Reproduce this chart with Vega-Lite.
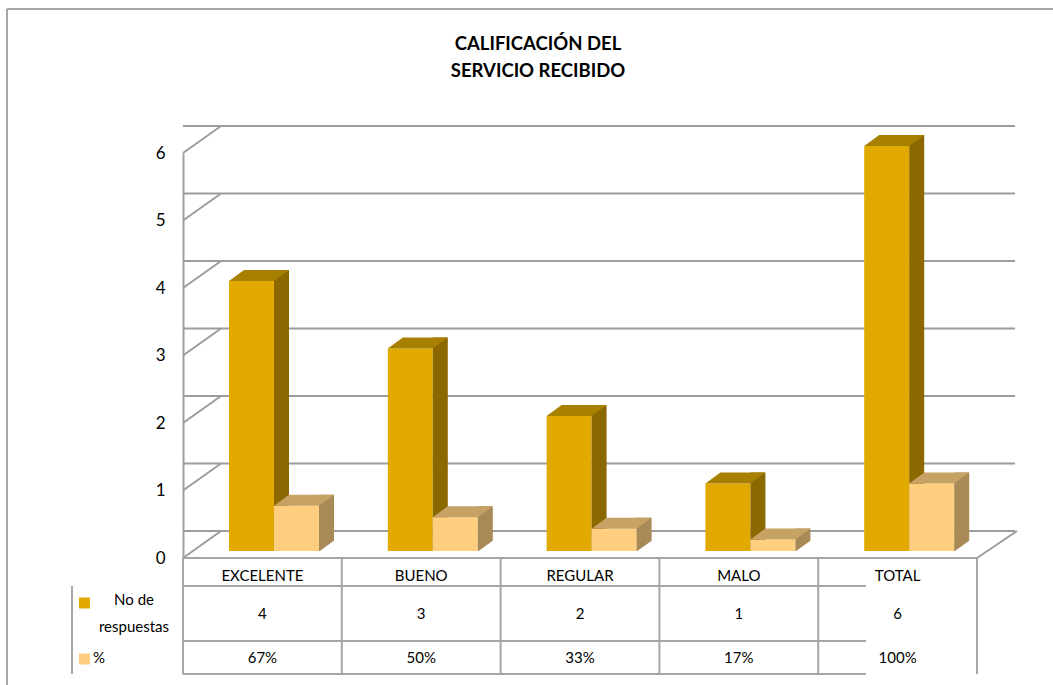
{
  "$schema": "https://vega.github.io/schema/vega-lite/v6.json",
  "width": 794,
  "height": 405,
  "autosize": {"type": "none"},
  "padding": {"left": 183, "top": 153, "right": 76, "bottom": 127},
  "background": "white",
  "title": {
    "text": ["CALIFICACIÓN DEL", "SERVICIO RECIBIDO"],
    "font": "Lato",
    "fontSize": 18.5,
    "fontWeight": "bold",
    "color": "#000000",
    "lineHeight": 27,
    "anchor": "middle",
    "frame": "group",
    "dx": -42,
    "dy": 76
  },
  "config": {
    "view": {"stroke": null},
    "font": "Lato",
    "axisX": {"disable": true},
    "text": {"font": "Lato", "color": "#000000"}
  },
  "datasets": {
    "bars": [
      {"cat": "EXCELENTE", "serie": "No de respuestas", "v": 4},
      {"cat": "BUENO", "serie": "No de respuestas", "v": 3},
      {"cat": "REGULAR", "serie": "No de respuestas", "v": 2},
      {"cat": "MALO", "serie": "No de respuestas", "v": 1},
      {"cat": "TOTAL", "serie": "No de respuestas", "v": 6},
      {"cat": "EXCELENTE", "serie": "%", "v": 0.67},
      {"cat": "BUENO", "serie": "%", "v": 0.5},
      {"cat": "REGULAR", "serie": "%", "v": 0.33},
      {"cat": "MALO", "serie": "%", "v": 0.17},
      {"cat": "TOTAL", "serie": "%", "v": 1}
    ],
    "ticks": [{"t": 0}, {"t": 1}, {"t": 2}, {"t": 3}, {"t": 4}, {"t": 5}, {"t": 6}],
    "one": [{"k": 1}]
  },
  "data": {"name": "bars"},
  "layer": [
    {
      "data": {"name": "one"},
      "mark": {"type": "rule", "color": "#A6A6A6", "strokeWidth": 2, "yOffset": -144, "xOffset": -176, "x2Offset": 300},
      "encoding": {
        "x": {
          "datum": "EXCELENTE",
          "type": "nominal",
          "bandPosition": 0,
          "scale": {"domain": ["EXCELENTE", "BUENO", "REGULAR", "MALO", "TOTAL"], "paddingInner": 0, "paddingOuter": 0}
        },
        "x2": {"datum": "TOTAL"},
        "y": {
          "datum": 6,
          "type": "quantitative",
          "scale": {"domain": [0, 6], "nice": false, "zero": true},
          "axis": {
            "title": null,
            "values": [0, 1, 2, 3, 4, 5, 6],
            "format": "d",
            "grid": false,
            "ticks": false,
            "domainColor": "#A0A0A0",
            "domainWidth": 2,
            "labelPadding": 18,
            "labelFont": "Lato",
            "labelFontSize": 17,
            "labelColor": "#000000"
          }
        }
      }
    },
    {
      "data": {"name": "one"},
      "mark": {"type": "rule", "color": "#A6A6A6", "strokeWidth": 2, "xOffset": -176, "yOffset": -144, "y2Offset": 140},
      "encoding": {
        "x": {"datum": "EXCELENTE", "type": "nominal", "bandPosition": 0},
        "y": {"datum": 6, "type": "quantitative"},
        "y2": {"datum": 0}
      }
    },
    {
      "data": {"name": "ticks"},
      "mark": {"type": "rule", "color": "#9C9C9C", "strokeWidth": 2, "xOffset": 38, "x2Offset": 40, "yOffset": -27},
      "encoding": {"y": {"field": "t", "type": "quantitative"}}
    },
    {
      "data": {"name": "ticks"},
      "mark": {"type": "point", "shape": "M 0 0 L 38 -27", "size": 4, "filled": false, "stroke": "#9C9C9C", "strokeWidth": 2, "opacity": 1},
      "encoding": {
        "x": {"datum": "EXCELENTE", "type": "nominal", "bandPosition": 0},
        "y": {"field": "t", "type": "quantitative"}
      }
    },
    {
      "data": {"name": "one"},
      "mark": {"type": "point", "shape": "M 0 0 L 40 -27", "size": 4, "filled": false, "stroke": "#9C9C9C", "strokeWidth": 2, "opacity": 1},
      "encoding": {
        "x": {"datum": "TOTAL", "type": "nominal", "bandPosition": 1},
        "y": {"datum": 0, "type": "quantitative"}
      }
    },
    {
      "transform": [{"filter": "datum.serie === 'No de respuestas'"}],
      "mark": {"type": "bar", "width": 45, "xOffset": -10.9, "yOffset": -7, "y2Offset": -7, "color": "#E2AA00"},
      "encoding": {
        "x": {"field": "cat", "type": "nominal", "sort": null},
        "y": {"field": "v", "type": "quantitative"},
        "y2": {"datum": 0}
      }
    },
    {
      "transform": [{"filter": "datum.serie === 'No de respuestas'"}],
      "mark": {"type": "bar", "width": 15, "xOffset": 19.1, "yOffset": -18, "y2Offset": -7, "color": "#8B6900"},
      "encoding": {
        "x": {"field": "cat", "type": "nominal", "sort": null},
        "y": {"field": "v", "type": "quantitative"},
        "y2": {"datum": 0}
      }
    },
    {
      "transform": [{"filter": "datum.serie === 'No de respuestas'"}],
      "mark": {"type": "point", "shape": "M -22.5 0 L 22.5 0 L 37.5 -11 L -7.5 -11 Z", "size": 4, "filled": true, "fill": "#A88000", "strokeWidth": 0, "opacity": 1, "xOffset": -10.9, "yOffset": -7},
      "encoding": {
        "x": {"field": "cat", "type": "nominal", "sort": null},
        "y": {"field": "v", "type": "quantitative"}
      }
    },
    {
      "transform": [{"filter": "datum.serie === '%'"}],
      "mark": {"type": "bar", "width": 45, "xOffset": 34.1, "yOffset": -7, "y2Offset": -7, "color": "#FFCF7F"},
      "encoding": {
        "x": {"field": "cat", "type": "nominal", "sort": null},
        "y": {"field": "v", "type": "quantitative"},
        "y2": {"datum": 0}
      }
    },
    {
      "transform": [{"filter": "datum.serie === '%'"}],
      "mark": {"type": "bar", "width": 15, "xOffset": 64.1, "yOffset": -18, "y2Offset": -7, "color": "#A88A56"},
      "encoding": {
        "x": {"field": "cat", "type": "nominal", "sort": null},
        "y": {"field": "v", "type": "quantitative"},
        "y2": {"datum": 0}
      }
    },
    {
      "transform": [{"filter": "datum.serie === '%'"}],
      "mark": {"type": "point", "shape": "M 0 0.6 L 16 0.6 L 16 -11 Z", "size": 4, "filled": true, "fill": "#FFFFFF", "strokeWidth": 0, "opacity": 1, "xOffset": 56.6, "yOffset": -7},
      "encoding": {
        "x": {"field": "cat", "type": "nominal", "sort": null},
        "y": {"datum": 0, "type": "quantitative"}
      }
    },
    {
      "transform": [{"filter": "datum.serie === '%'"}],
      "mark": {"type": "point", "shape": "M -22.5 0 L 22.5 0 L 37.5 -11 L -7.5 -11 Z", "size": 4, "filled": true, "fill": "#C6A265", "strokeWidth": 0, "opacity": 1, "xOffset": 34.1, "yOffset": -7},
      "encoding": {
        "x": {"field": "cat", "type": "nominal", "sort": null},
        "y": {"field": "v", "type": "quantitative"}
      }
    },
    {
      "data": {"name": "one"},
      "mark": {"type": "rule", "color": "#A6A6A6", "strokeWidth": 2},
      "encoding": {"y": {"datum": 0, "type": "quantitative"}}
    },
    {
      "data": {"name": "one"},
      "mark": {"type": "rule", "color": "#A6A6A6", "strokeWidth": 2, "yOffset": 28, "xOffset": -111},
      "encoding": {"y": {"datum": 0, "type": "quantitative"}}
    },
    {
      "data": {"name": "one"},
      "mark": {"type": "rule", "color": "#A6A6A6", "strokeWidth": 2, "yOffset": 83, "xOffset": -111},
      "encoding": {"y": {"datum": 0, "type": "quantitative"}}
    },
    {
      "data": {"name": "one"},
      "mark": {"type": "rule", "color": "#A6A6A6", "strokeWidth": 2, "yOffset": 116, "xOffset": -111},
      "encoding": {"y": {"datum": 0, "type": "quantitative"}}
    },
    {
      "transform": [{"filter": "datum.serie === 'No de respuestas'"}],
      "mark": {"type": "rule", "color": "#A6A6A6", "strokeWidth": 2, "y2Offset": 116},
      "encoding": {
        "x": {"field": "cat", "type": "nominal", "sort": null, "bandPosition": 0},
        "y": {"datum": 0, "type": "quantitative"},
        "y2": {"datum": 0}
      }
    },
    {
      "data": {"name": "one"},
      "mark": {"type": "rule", "color": "#A6A6A6", "strokeWidth": 2, "y2Offset": 116},
      "encoding": {
        "x": {"datum": "TOTAL", "type": "nominal", "bandPosition": 1},
        "y": {"datum": 0, "type": "quantitative"},
        "y2": {"datum": 0}
      }
    },
    {
      "data": {"name": "one"},
      "mark": {"type": "rule", "color": "#A6A6A6", "strokeWidth": 2, "xOffset": -111, "yOffset": 28, "y2Offset": 116},
      "encoding": {
        "x": {"datum": "EXCELENTE", "type": "nominal", "bandPosition": 0},
        "y": {"datum": 0, "type": "quantitative"},
        "y2": {"datum": 0}
      }
    },
    {
      "transform": [{"filter": "datum.serie === 'No de respuestas'"}],
      "mark": {"type": "text", "fontSize": 15, "yOffset": 18, "baseline": "middle", "align": "center"},
      "encoding": {
        "x": {"field": "cat", "type": "nominal", "sort": null},
        "y": {"datum": 0, "type": "quantitative"},
        "text": {"field": "cat"}
      }
    },
    {
      "transform": [{"filter": "datum.serie === 'No de respuestas'"}],
      "mark": {"type": "text", "fontSize": 15, "yOffset": 56, "baseline": "middle", "align": "center"},
      "encoding": {
        "x": {"field": "cat", "type": "nominal", "sort": null},
        "y": {"datum": 0, "type": "quantitative"},
        "text": {"field": "v", "type": "quantitative", "format": "d"}
      }
    },
    {
      "transform": [{"filter": "datum.serie === '%'"}],
      "mark": {"type": "text", "fontSize": 15, "yOffset": 100, "baseline": "middle", "align": "center"},
      "encoding": {
        "x": {"field": "cat", "type": "nominal", "sort": null},
        "y": {"datum": 0, "type": "quantitative"},
        "text": {"field": "v", "type": "quantitative", "format": ".0%"}
      }
    },
    {
      "data": {"name": "one"},
      "mark": {"type": "text", "text": ["No de", "respuestas"], "fontSize": 15, "lineHeight": 27, "xOffset": -49, "yOffset": 42, "baseline": "middle", "align": "center"},
      "encoding": {
        "x": {"datum": "EXCELENTE", "type": "nominal", "bandPosition": 0},
        "y": {"datum": 0, "type": "quantitative"}
      }
    },
    {
      "data": {"name": "one"},
      "mark": {"type": "text", "text": "%", "fontSize": 15, "xOffset": -90, "yOffset": 100, "baseline": "middle", "align": "left"},
      "encoding": {
        "x": {"datum": "EXCELENTE", "type": "nominal", "bandPosition": 0},
        "y": {"datum": 0, "type": "quantitative"}
      }
    },
    {
      "data": {"name": "one"},
      "mark": {"type": "point", "shape": "square", "size": 121, "filled": true, "fill": "#E2AA00", "strokeWidth": 0, "opacity": 1, "xOffset": -98.5, "yOffset": 45},
      "encoding": {
        "x": {"datum": "EXCELENTE", "type": "nominal", "bandPosition": 0},
        "y": {"datum": 0, "type": "quantitative"}
      }
    },
    {
      "data": {"name": "one"},
      "mark": {"type": "point", "shape": "square", "size": 121, "filled": true, "fill": "#FFCF7F", "strokeWidth": 0, "opacity": 1, "xOffset": -98.5, "yOffset": 101},
      "encoding": {
        "x": {"datum": "EXCELENTE", "type": "nominal", "bandPosition": 0},
        "y": {"datum": 0, "type": "quantitative"}
      }
    }
  ]
}
